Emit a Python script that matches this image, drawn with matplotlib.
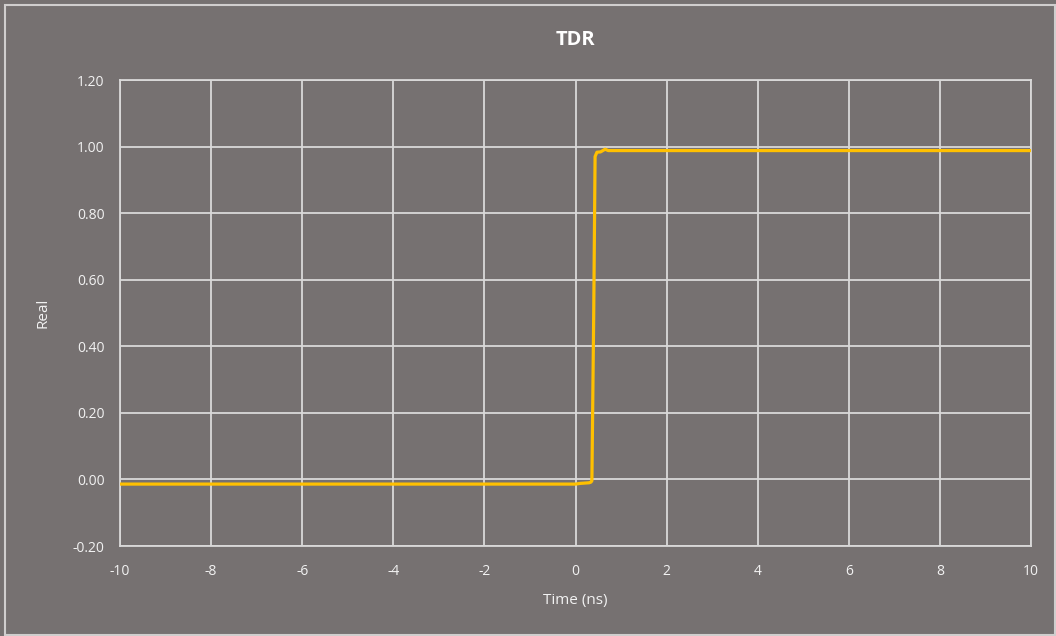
import numpy as np
import matplotlib
matplotlib.use('Agg')
import matplotlib.pyplot as plt

# values
time_ns = [-10, -5, 0.0, 0.1, 0.2, 0.3, 0.34, 0.36, 0.40, 0.43, 0.47, 0.55, 0.65, 0.72, 0.80, 2, 5, 10]
real = [-0.014, -0.014, -0.014, -0.012, -0.011, -0.010, -0.008, -0.004, 0.50, 0.97, 0.983, 0.984, 0.992, 0.988, 0.988, 0.988, 0.988, 0.988]

x_ticks = [-10, -8, -6, -4, -2, 0, 2, 4, 6, 8, 10]
y_ticks = [-0.20, 0.00, 0.20, 0.40, 0.60, 0.80, 1.00, 1.20]

bg = '#767171'
fg = '#F2F2F2'
plt.rcParams['font.family'] = ['Open Sans', 'DejaVu Sans']
plt.rcParams['axes.unicode_minus'] = False

fig = plt.figure(figsize=(10.56, 6.36), dpi=100, facecolor=bg)
ax = fig.add_axes([120/1056, 1 - 546/636, (1031-120)/1056, (546-80)/636])
ax.set_facecolor(bg)

ax.plot(time_ns, real, color='#FFC000', lw=2.3, solid_joinstyle='round', zorder=3)

ax.set_xlim(-10, 10)
ax.set_ylim(-0.2, 1.2)
ax.set_xticks(x_ticks)
ax.set_yticks(y_ticks)
ax.set_yticklabels(['{:.2f}'.format(v) for v in y_ticks])
ax.grid(True, color='#D9D9D9', lw=1.3)
for s in ax.spines.values():
    s.set_color('#D9D9D9')
    s.set_linewidth(1.3)
ax.tick_params(colors=fg, labelsize=10, length=0)
ax.tick_params(axis='x', pad=13)
ax.tick_params(axis='y', pad=11)

ax.set_xlabel('Time (ns)', color=fg, fontsize=11, labelpad=10)
ax.set_ylabel('Real', color=fg, fontsize=11, labelpad=16)
fig.text(575/1056, 1 - 40/636, 'TDR', color='white', fontsize=14.5, fontweight='bold', ha='center', va='center')

# thin light frame around the chart
fig.patches.append(plt.Rectangle((5/1056, 0.002), 1 - 6/1056, 1 - 6/636, transform=fig.transFigure,
                                 fill=False, edgecolor='#D0CECE', lw=1.5))

fig.savefig('out.png', dpi=100, facecolor=bg)
